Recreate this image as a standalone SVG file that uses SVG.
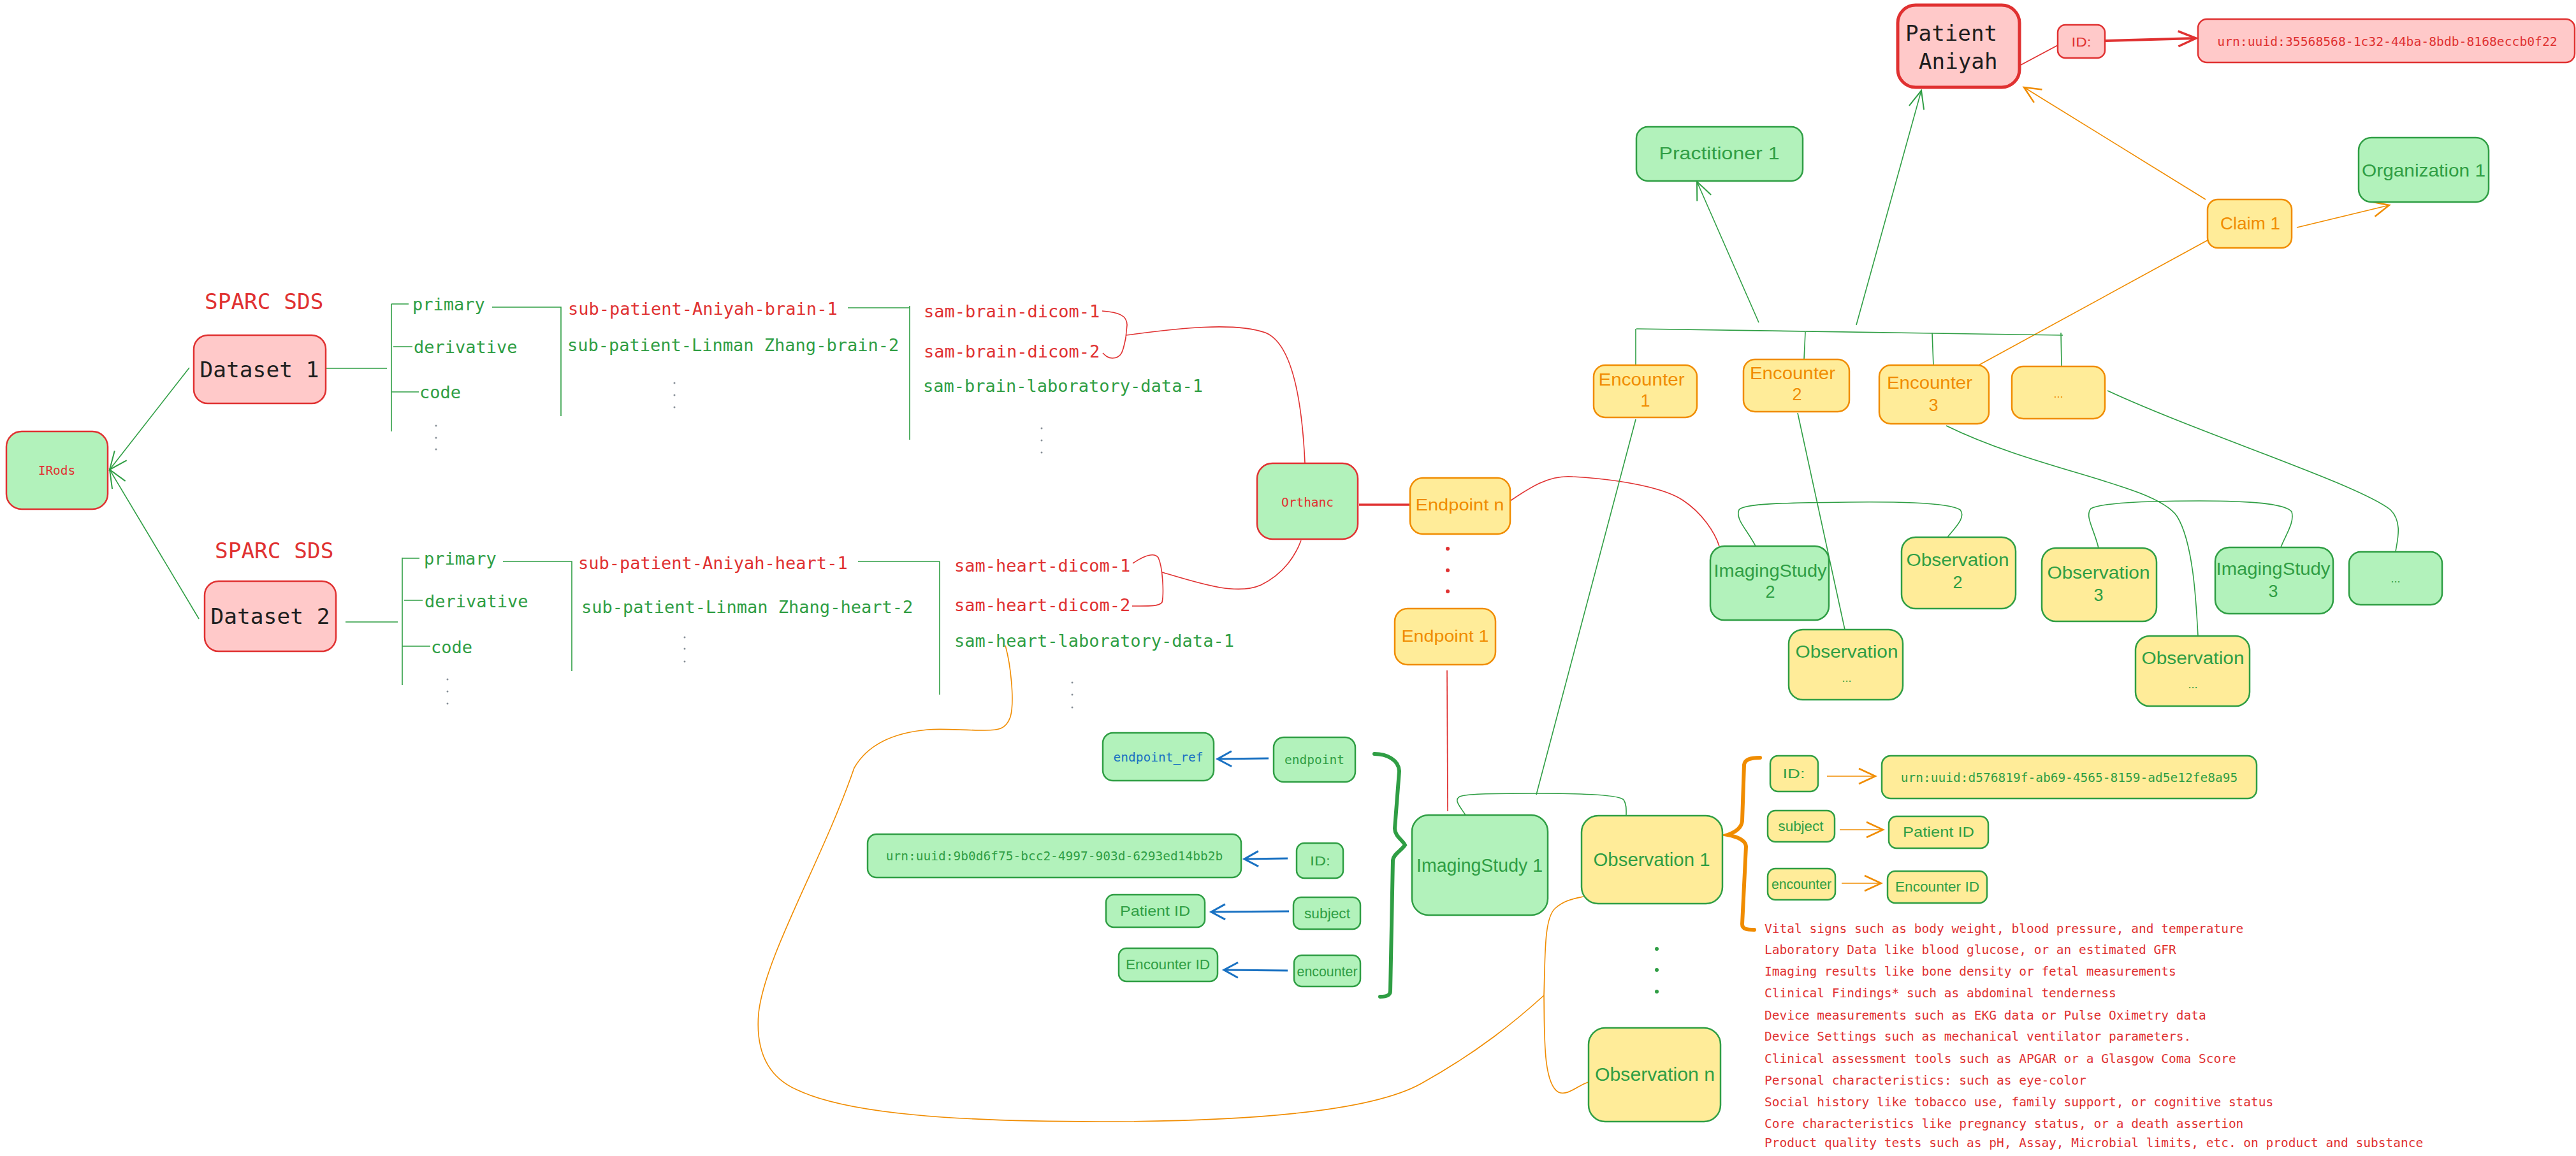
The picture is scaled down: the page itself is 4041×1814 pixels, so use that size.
<svg xmlns="http://www.w3.org/2000/svg" width="4041" height="1814" viewBox="0 0 4041 1814">
<defs>
<style>
.mono{font-family:"DejaVu Sans Mono","Liberation Mono",monospace;}
.hand{font-family:"Liberation Sans","Noto Sans",sans-serif;}
.c{text-anchor:middle;dominant-baseline:central;}
.red{fill:#e03131;}
.grn{fill:#2f9e44;}
.org{fill:#f08c00;}
.blu{fill:#1971c2;}
.blk{fill:#1e1e1e;}
.bR{fill:#ffc9c9;stroke:#e03131;stroke-width:2.5;}
.bG{fill:#b2f2bb;stroke:#2f9e44;stroke-width:2.5;}
.bRG{fill:#b2f2bb;stroke:#e03131;stroke-width:2.5;}
.bY{fill:#ffec99;stroke:#f08c00;stroke-width:2.5;}
.bYG{fill:#ffec99;stroke:#2f9e44;stroke-width:2.5;}
.lg{fill:none;stroke:#2f9e44;stroke-width:1.6;}
.lr{fill:none;stroke:#e03131;stroke-width:1.6;}
.lo{fill:none;stroke:#f08c00;stroke-width:1.6;}
.lb{fill:none;stroke:#1971c2;stroke-width:3;}
.dotg{fill:#868e96;}
</style>
<marker id="ag" viewBox="-32 -16 36 32" refX="0" refY="0" markerWidth="36" markerHeight="32" markerUnits="userSpaceOnUse" orient="auto"><path d="M-28,-12 L0,0 L-28,12" fill="none" stroke="#2f9e44" stroke-width="2"/></marker>
<marker id="ao" viewBox="-32 -16 36 32" refX="0" refY="0" markerWidth="36" markerHeight="32" markerUnits="userSpaceOnUse" orient="auto"><path d="M-26,-12 L0,0 L-26,12" fill="none" stroke="#f08c00" stroke-width="2.5"/></marker>
<marker id="ar" viewBox="-32 -16 36 32" refX="0" refY="0" markerWidth="36" markerHeight="32" markerUnits="userSpaceOnUse" orient="auto"><path d="M-28,-12 L0,0 L-28,12" fill="none" stroke="#e03131" stroke-width="3.5"/></marker>
<marker id="ab" viewBox="-32 -16 36 32" refX="0" refY="0" markerWidth="36" markerHeight="32" markerUnits="userSpaceOnUse" orient="auto"><path d="M-22,-12 L0,0 L-22,12" fill="none" stroke="#1971c2" stroke-width="3"/></marker>
</defs>
<rect width="4041" height="1814" fill="#ffffff"/>

<g id="connectors">
<!-- datasets to IRods -->
<path class="lg" d="M297,577 L172,737" marker-end="url(#ag)"/>
<path class="lg" d="M312,971 L172,737" marker-end="url(#ag)"/>
<!-- tree 1 -->
<path class="lg" d="M511,578 L607,578 M614,477 L614,677 M614,477 L641,477 M617,544 L647,544 M614,615 L657,615 M772,482 L880,482 L880,653 M1330,483 L1427,483 M1427,480 L1427,690"/>
<!-- tree 2 -->
<path class="lg" d="M542,976 L624,976 M631,875 L631,1075 M631,876 L658,876 M634,942 L663,942 M631,1014 L675,1014 M789,881 L897,881 L897,1053 M1346,881 L1474,881 M1474,881 L1474,1090"/>
<!-- dicom braces and curves to Orthanc -->
<path class="lr" d="M1729,488 C1755,490 1768,495 1768,510 L1766,530 C1762,550 1760,562 1745,562 C1738,562 1734,558 1730,554"/>
<path class="lr" d="M1766,526 C1850,515 1935,505 1985,522 C2030,540 2043,640 2047,726"/>
<path class="lr" d="M1777,884 C1795,872 1810,866 1817,875 C1824,890 1826,930 1823,945 C1818,952 1800,951 1776,951"/>
<path class="lr" d="M1823,898 C1880,915 1940,935 1978,918 C2015,900 2033,870 2041,848"/>
<!-- Orthanc to Endpoint n -->
<path d="M2132,792 L2212,792" fill="none" stroke="#e03131" stroke-width="3.5"/>
<!-- Endpoint n to ImagingStudy 2 -->
<path class="lr" d="M2369,786 C2400,765 2430,745 2467,748 C2540,752 2610,765 2640,785 C2670,805 2690,835 2697,857"/>
<!-- Endpoint 1 to ImagingStudy 1 -->
<path class="lr" d="M2270,1052 L2271,1273"/>
<!-- top: patient / practitioner / claim -->
<path class="lg" d="M2912,510 L3014,142" marker-end="url(#ag)"/>
<path class="lg" d="M2759,506 L2662,285" marker-end="url(#ag)"/>
<path class="lo" d="M3460,313 L3175,137" marker-end="url(#ao)"/>
<path class="lo" d="M3603,357 L3748,322" marker-end="url(#ao)"/>
<path class="lo" d="M3463,377 L3104,573"/>
<path class="lr" d="M3168,103 L3228,71"/>
<path d="M3303,64 L3445,60" fill="none" stroke="#e03131" stroke-width="4" marker-end="url(#ar)"/>
<!-- encounter bus -->
<path class="lg" d="M2567,516 L3236,526 M2566,516 L2566,573 M2832,521 L2830,564 M3031,522 L3033,575 M3233,522 L3234,575"/>
<!-- encounters down -->
<path class="lg" d="M2566,658 L2410,1247"/>
<path class="lg" d="M2820,648 L2894,988"/>
<path class="lg" d="M3053,668 C3200,740 3380,760 3415,810 C3440,850 3445,940 3448,998"/>
<path class="lg" d="M3306,613 C3450,680 3700,760 3750,800 C3770,820 3760,850 3758,866"/>
<!-- brackets -->
<path class="lg" d="M2754,857 C2740,830 2722,815 2728,800 C2735,790 2800,789 2900,788 C2990,787 3060,790 3075,800 C3085,812 3065,830 3055,843"/>
<path class="lg" d="M3292,860 C3285,830 3270,810 3280,798 C3300,788 3380,786 3450,786 C3530,786 3585,790 3595,803 C3600,820 3585,840 3578,859"/>
<path class="lg" d="M2299,1279 C2290,1265 2280,1255 2290,1250 C2300,1246 2330,1245 2410,1245 C2480,1245 2540,1247 2547,1255 C2552,1262 2551,1272 2551,1280"/>
<!-- blue arrows -->
<path class="lb" d="M1990,1190 L1910,1191" marker-end="url(#ab)"/>
<path class="lb" d="M2020,1347 L1952,1348" marker-end="url(#ab)"/>
<path class="lb" d="M2022,1430 L1900,1431" marker-end="url(#ab)"/>
<path class="lb" d="M2020,1523 L1920,1522" marker-end="url(#ab)"/>
<!-- green brace -->
<path d="M2156,1183 C2175,1183 2194,1192 2195,1210 L2188,1300 C2188,1312 2200,1318 2204,1326 C2198,1335 2186,1340 2185,1350 L2181,1555 C2181,1562 2175,1564 2165,1564" fill="none" stroke="#2f9e44" stroke-width="6" stroke-linecap="round"/>
<!-- orange brace -->
<path d="M2761,1189 C2745,1189 2737,1192 2736,1200 L2733,1288 C2732,1300 2722,1306 2710,1310 C2725,1313 2738,1318 2739,1328 L2733,1450 C2733,1458 2740,1459 2752,1459" fill="none" stroke="#f08c00" stroke-width="6" stroke-linecap="round"/>
<!-- orange arrows -->
<path class="lo" d="M2866,1218 L2942,1218" stroke-width="3" marker-end="url(#ao)"/>
<path class="lo" d="M2886,1302 L2954,1302" stroke-width="3" marker-end="url(#ao)"/>
<path class="lo" d="M2889,1386 L2951,1386" stroke-width="3" marker-end="url(#ao)"/>
<!-- orange long curve from heart lab data -->
<path class="lo" d="M1577,1013 C1585,1040 1592,1100 1585,1125 C1578,1145 1565,1146 1545,1146 C1510,1146 1480,1143 1455,1145 C1400,1150 1360,1170 1340,1205 C1290,1350 1200,1500 1190,1590 C1185,1650 1205,1690 1250,1710 C1330,1748 1500,1760 1725,1760 C1950,1760 2150,1745 2230,1700 C2320,1650 2380,1600 2422,1562"/>
<path class="lo" d="M2422,1562 C2424,1500 2422,1440 2440,1425 C2455,1412 2470,1410 2484,1407"/>
<path class="lo" d="M2422,1562 C2423,1620 2420,1700 2445,1714 C2460,1720 2475,1703 2492,1698"/>
</g>

<g id="irods"><rect class="bRG" x="10" y="677" width="159" height="122" rx="24"/><text class="mono red c" x="89" y="738" font-size="19.5">IRods</text></g>

<g id="sparc-sds-1"><text class="mono red" x="321" y="485" font-size="34.4">SPARC SDS</text></g>
<g id="dataset-1"><rect class="bR" x="304" y="526" width="207" height="107" rx="22"/><text class="mono blk c" x="407" y="580" font-size="34.5">Dataset 1</text></g>
<g id="sparc-sds-2"><text class="mono red" x="337" y="876" font-size="34.4">SPARC SDS</text></g>
<g id="dataset-2"><rect class="bR" x="321" y="912" width="206" height="110" rx="22"/><text class="mono blk c" x="424" y="967" font-size="34.5">Dataset 2</text></g>

<g id="tree-1" class="mono" font-size="27">
<text class="grn" x="647" y="487">primary</text>
<text class="grn" x="649" y="554">derivative</text>
<text class="grn" x="658" y="625">code</text>
<circle class="dotg" cx="684" cy="668" r="1.5"/><circle class="dotg" cx="684" cy="687" r="1.5"/><circle class="dotg" cx="684" cy="705" r="1.5"/>
<text class="red" x="891" y="494">sub-patient-Aniyah-brain-1</text>
<text class="grn" x="890" y="551">sub-patient-Linman Zhang-brain-2</text>
<circle class="dotg" cx="1058" cy="601" r="1.5"/><circle class="dotg" cx="1058" cy="620" r="1.5"/><circle class="dotg" cx="1058" cy="639" r="1.5"/>
<text class="red" x="1449" y="498">sam-brain-dicom-1</text>
<text class="red" x="1449" y="561">sam-brain-dicom-2</text>
<text class="grn" x="1448" y="615">sam-brain-laboratory-data-1</text>
<circle class="dotg" cx="1634" cy="672" r="1.5"/><circle class="dotg" cx="1634" cy="691" r="1.5"/><circle class="dotg" cx="1634" cy="710" r="1.5"/>
</g>

<g id="tree-2" class="mono" font-size="27">
<text class="grn" x="665" y="886">primary</text>
<text class="grn" x="666" y="953">derivative</text>
<text class="grn" x="676" y="1025">code</text>
<circle class="dotg" cx="702" cy="1066" r="1.5"/><circle class="dotg" cx="702" cy="1085" r="1.5"/><circle class="dotg" cx="702" cy="1104" r="1.5"/>
<text class="red" x="907" y="893">sub-patient-Aniyah-heart-1</text>
<text class="grn" x="912" y="962">sub-patient-Linman Zhang-heart-2</text>
<circle class="dotg" cx="1074" cy="1000" r="1.5"/><circle class="dotg" cx="1074" cy="1018" r="1.5"/><circle class="dotg" cx="1074" cy="1038" r="1.5"/>
<text class="red" x="1497" y="897">sam-heart-dicom-1</text>
<text class="red" x="1497" y="959">sam-heart-dicom-2</text>
<text class="grn" x="1497" y="1015">sam-heart-laboratory-data-1</text>
<circle class="dotg" cx="1682" cy="1071" r="1.5"/><circle class="dotg" cx="1682" cy="1090" r="1.5"/><circle class="dotg" cx="1682" cy="1110" r="1.5"/>
</g>

<g id="orthanc"><rect class="bRG" x="1972" y="727" width="158" height="119" rx="24"/><text class="mono red c" x="2051" y="788" font-size="19.5">Orthanc</text></g>
<g id="endpoint-n"><rect class="bY" x="2212" y="750" width="157" height="88" rx="20"/><text class="hand org c" x="2290" y="792" font-size="26" textLength="139" lengthAdjust="spacingAndGlyphs">Endpoint n</text></g>
<g id="endpoint-dots"><circle class="red" cx="2271" cy="861" r="3"/><circle class="red" cx="2271" cy="895" r="3"/><circle class="red" cx="2271" cy="928" r="3"/></g>
<g id="endpoint-1"><rect class="bY" x="2188" y="955" width="158" height="88" rx="20"/><text class="hand org c" x="2267" y="998" font-size="26" textLength="137" lengthAdjust="spacingAndGlyphs">Endpoint 1</text></g>

<g id="patient"><rect x="2977" y="8" width="191" height="129" rx="28" fill="#ffc9c9" stroke="#e03131" stroke-width="5"/><text class="mono blk" x="2989" y="64" font-size="34.2">Patient</text><text class="mono blk" x="3010" y="108" font-size="34.2">Aniyah</text></g>
<g id="patient-id-key"><rect class="bR" x="3228" y="39" width="74" height="52" rx="12"/><text class="hand red c" x="3265" y="65" font-size="21" textLength="31" lengthAdjust="spacingAndGlyphs">ID:</text></g>
<g id="patient-id-value"><rect class="bR" x="3448" y="30" width="591" height="68" rx="14"/><text class="mono red c" x="3745" y="65" font-size="19.7">urn:uuid:35568568-1c32-44ba-8bdb-8168eccb0f22</text></g>
<g id="practitioner-1"><rect class="bG" x="2567" y="199" width="261" height="85" rx="18"/><text class="hand grn c" x="2697" y="240" font-size="28" textLength="189" lengthAdjust="spacingAndGlyphs">Practitioner 1</text></g>
<g id="organization-1"><rect class="bG" x="3700" y="216" width="204" height="101" rx="20"/><text class="hand grn c" x="3802" y="267" font-size="28" textLength="194" lengthAdjust="spacingAndGlyphs">Organization 1</text></g>
<g id="claim-1"><rect class="bY" x="3463" y="313" width="132" height="76" rx="16"/><text class="hand org c" x="3530" y="350" font-size="28" textLength="94" lengthAdjust="spacingAndGlyphs">Claim 1</text></g>

<g id="encounter-1"><rect class="bY" x="2500" y="573" width="162" height="82" rx="18"/><text class="hand org" text-anchor="middle" x="2575" y="605" font-size="27" textLength="135" lengthAdjust="spacingAndGlyphs">Encounter</text><text class="hand org" text-anchor="middle" x="2581" y="638" font-size="27">1</text></g>
<g id="encounter-2"><rect class="bY" x="2735" y="564" width="166" height="82" rx="18"/><text class="hand org" text-anchor="middle" x="2812" y="595" font-size="27" textLength="134" lengthAdjust="spacingAndGlyphs">Encounter</text><text class="hand org" text-anchor="middle" x="2819" y="628" font-size="27">2</text></g>
<g id="encounter-3"><rect class="bY" x="2948" y="573" width="172" height="92" rx="18"/><text class="hand org" text-anchor="middle" x="3027" y="610" font-size="27" textLength="134" lengthAdjust="spacingAndGlyphs">Encounter</text><text class="hand org" text-anchor="middle" x="3033" y="645" font-size="27">3</text></g>
<g id="encounter-more"><rect class="bY" x="3156" y="575" width="146" height="82" rx="18"/><text class="hand org c" x="3229" y="618" font-size="18">...</text></g>

<g id="imagingstudy-2"><rect class="bG" x="2683" y="857" width="186" height="116" rx="22"/><text class="hand grn" text-anchor="middle" x="2777" y="905" font-size="27" textLength="177" lengthAdjust="spacingAndGlyphs">ImagingStudy</text><text class="hand grn" text-anchor="middle" x="2777" y="938" font-size="27">2</text></g>
<g id="observation-2"><rect class="bYG" x="2983" y="843" width="179" height="112" rx="22"/><text class="hand grn" text-anchor="middle" x="3071" y="888" font-size="27" textLength="161" lengthAdjust="spacingAndGlyphs">Observation</text><text class="hand grn" text-anchor="middle" x="3071" y="923" font-size="27">2</text></g>
<g id="observation-more-1"><rect class="bYG" x="2806" y="988" width="179" height="110" rx="22"/><text class="hand grn" text-anchor="middle" x="2897" y="1032" font-size="27" textLength="161" lengthAdjust="spacingAndGlyphs">Observation</text><text class="hand grn c" x="2897" y="1064" font-size="18">...</text></g>
<g id="observation-3"><rect class="bYG" x="3203" y="860" width="180" height="115" rx="22"/><text class="hand grn" text-anchor="middle" x="3292" y="908" font-size="27" textLength="161" lengthAdjust="spacingAndGlyphs">Observation</text><text class="hand grn" text-anchor="middle" x="3292" y="943" font-size="27">3</text></g>
<g id="imagingstudy-3"><rect class="bG" x="3475" y="859" width="185" height="104" rx="22"/><text class="hand grn" text-anchor="middle" x="3566" y="902" font-size="27" textLength="179" lengthAdjust="spacingAndGlyphs">ImagingStudy</text><text class="hand grn" text-anchor="middle" x="3566" y="937" font-size="27">3</text></g>
<g id="observation-more-2"><rect class="bYG" x="3350" y="998" width="179" height="110" rx="22"/><text class="hand grn" text-anchor="middle" x="3440" y="1042" font-size="27" textLength="161" lengthAdjust="spacingAndGlyphs">Observation</text><text class="hand grn c" x="3440" y="1074" font-size="18">...</text></g>
<g id="resource-more"><rect class="bG" x="3685" y="866" width="146" height="83" rx="18"/><text class="hand grn c" x="3758" y="908" font-size="18">...</text></g>

<g id="imagingstudy-1"><rect class="bG" x="2215" y="1279" width="213" height="157" rx="26"/><text class="hand grn c" x="2321" y="1357" font-size="30" textLength="198" lengthAdjust="spacingAndGlyphs">ImagingStudy 1</text></g>
<g id="observation-1"><rect class="bYG" x="2481" y="1280" width="221" height="138" rx="26"/><text class="hand grn c" x="2591" y="1348" font-size="30" textLength="183" lengthAdjust="spacingAndGlyphs">Observation 1</text></g>
<g id="observation-dots"><circle class="grn" cx="2599" cy="1489" r="3"/><circle class="grn" cx="2599" cy="1522" r="3"/><circle class="grn" cx="2599" cy="1556" r="3"/></g>
<g id="observation-n"><rect class="bYG" x="2492" y="1613" width="207" height="147" rx="26"/><text class="hand grn c" x="2596" y="1685" font-size="30" textLength="188" lengthAdjust="spacingAndGlyphs">Observation n</text></g>

<g id="is-endpoint-ref"><rect class="bG" x="1730" y="1150" width="174" height="75" rx="16"/><text class="mono blu c" x="1817" y="1188" font-size="19.5">endpoint_ref</text></g>
<g id="is-endpoint"><rect class="bG" x="1998" y="1157" width="128" height="70" rx="16"/><text class="mono grn c" x="2062" y="1192" font-size="19.5">endpoint</text></g>
<g id="is-id-value"><rect class="bG" x="1361" y="1309" width="586" height="68" rx="14"/><text class="mono grn c" x="1654" y="1343" font-size="19.5">urn:uuid:9b0d6f75-bcc2-4997-903d-6293ed14bb2b</text></g>
<g id="is-id"><rect class="bG" x="2034" y="1323" width="73" height="55" rx="12"/><text class="hand grn c" x="2071" y="1350" font-size="21" textLength="32" lengthAdjust="spacingAndGlyphs">ID:</text></g>
<g id="is-patient-id"><rect class="bG" x="1735" y="1404" width="155" height="51" rx="12"/><text class="hand grn c" x="1812" y="1429" font-size="22" textLength="110" lengthAdjust="spacingAndGlyphs">Patient ID</text></g>
<g id="is-subject"><rect class="bG" x="2029" y="1408" width="105" height="50" rx="12"/><text class="hand grn c" x="2082" y="1433" font-size="22" textLength="72" lengthAdjust="spacingAndGlyphs">subject</text></g>
<g id="is-encounter-id"><rect class="bG" x="1755" y="1488" width="155" height="52" rx="12"/><text class="hand grn c" x="1832" y="1513" font-size="22" textLength="132" lengthAdjust="spacingAndGlyphs">Encounter ID</text></g>
<g id="is-encounter"><rect class="bG" x="2030" y="1499" width="104" height="49" rx="12"/><text class="hand grn c" x="2082" y="1524" font-size="22" textLength="95" lengthAdjust="spacingAndGlyphs">encounter</text></g>

<g id="obs-id"><rect class="bYG" x="2777" y="1186" width="75" height="56" rx="12"/><text class="hand grn c" x="2814" y="1213" font-size="21" textLength="35" lengthAdjust="spacingAndGlyphs">ID:</text></g>
<g id="obs-id-value"><rect class="bYG" x="2952" y="1186" width="588" height="67" rx="14"/><text class="mono grn c" x="3246" y="1220" font-size="19.5">urn:uuid:d576819f-ab69-4565-8159-ad5e12fe8a95</text></g>
<g id="obs-subject"><rect class="bYG" x="2773" y="1272" width="105" height="49" rx="12"/><text class="hand grn c" x="2825" y="1296" font-size="22" textLength="71" lengthAdjust="spacingAndGlyphs">subject</text></g>
<g id="obs-patient-id"><rect class="bYG" x="2963" y="1281" width="156" height="50" rx="12"/><text class="hand grn c" x="3041" y="1305" font-size="22" textLength="112" lengthAdjust="spacingAndGlyphs">Patient ID</text></g>
<g id="obs-encounter"><rect class="bYG" x="2773" y="1363" width="106" height="49" rx="12"/><text class="hand grn c" x="2826" y="1387" font-size="22" textLength="94" lengthAdjust="spacingAndGlyphs">encounter</text></g>
<g id="obs-encounter-id"><rect class="bYG" x="2961" y="1367" width="156" height="50" rx="12"/><text class="hand grn c" x="3039" y="1391" font-size="22" textLength="132" lengthAdjust="spacingAndGlyphs">Encounter ID</text></g>

<g id="observation-categories" class="mono red" font-size="19.5">
<text x="2768" y="1464">Vital signs such as body weight, blood pressure, and temperature</text>
<text x="2768" y="1497">Laboratory Data like blood glucose, or an estimated GFR</text>
<text x="2768" y="1531">Imaging results like bone density or fetal measurements</text>
<text x="2768" y="1565">Clinical Findings* such as abdominal tenderness</text>
<text x="2768" y="1600">Device measurements such as EKG data or Pulse Oximetry data</text>
<text x="2768" y="1633">Device Settings such as mechanical ventilator parameters.</text>
<text x="2768" y="1668">Clinical assessment tools such as APGAR or a Glasgow Coma Score</text>
<text x="2768" y="1702">Personal characteristics: such as eye-color</text>
<text x="2768" y="1736">Social history like tobacco use, family support, or cognitive status</text>
<text x="2768" y="1770">Core characteristics like pregnancy status, or a death assertion</text>
<text x="2768" y="1800">Product quality tests such as pH, Assay, Microbial limits, etc. on product and substance</text>
</g>
</svg>
